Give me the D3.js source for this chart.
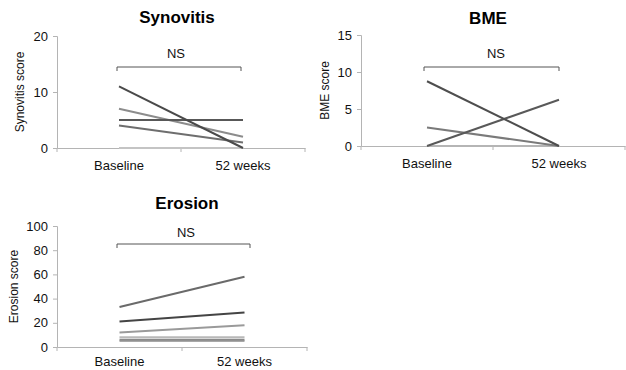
<!DOCTYPE html>
<html>
<head>
<meta charset="utf-8">
<script src="https://cdn.jsdelivr.net/npm/d3@7"></script>
<style>
body { margin: 0; background: #fff; }
svg { display: block; font-family: Arial, "Liberation Sans", sans-serif; }
</style>
</head>
<body>
<svg id="chart" width="626" height="370"></svg>
<script>
var width = 626, height = 370;

// categories
var timepoints = ["Baseline", "52 weeks"];

// synovitis scores per patient (baseline, 52 weeks)
var synovitisBaseline = [0, 4, 7, 5, 11];
var synovitisWeek52   = [0, 1, 2, 5, 0];
var synovitisTicks = [0, 10, 20];

// BME scores
var bmeBaseline = [0, 2.5, 0, 8.75];
var bmeWeek52   = [0, 0, 6.25, 0];
var bmeTicks = [0, 5, 10, 15];

// erosion scores
var erosionBaseline = [5, 6, 8, 12, 33, 21];
var erosionWeek52   = [5, 6, 8, 18, 58, 28.5];
var erosionTicks = [0, 20, 40, 60, 80, 100];

// line greys, one per patient
var synovitisColors = ["#c4c4c4", "#6e6e6e", "#8c8c8c", "#585858", "#4a4a4a"];
var bmeColors = ["#b5b5b5", "#7a7a7a", "#595959", "#4e4e4e"];
var erosionColors = ["#a8a8a8", "#8a8a8a", "#b8b8b8", "#9a9a9a", "#6a6a6a", "#444444"];

var panels = [
  {title: "Synovitis", ylabel: "Synovitis score", base: synovitisBaseline, end: synovitisWeek52,
   ticks: synovitisTicks, colors: synovitisColors, pad: 13,
   x0: 57, x1: 305, yTop: 36, yBot: 148, titleX: 177, titleY: 23, labelX: 24,
   nsX: 176, nsY: 58, brY: 67, brX0: 117, brX1: 241},
  {title: "BME", ylabel: "BME score", base: bmeBaseline, end: bmeWeek52,
   ticks: bmeTicks, colors: bmeColors, pad: 13,
   x0: 361, x1: 625, yTop: 35, yBot: 146, titleX: 488, titleY: 24, labelX: 329,
   nsX: 496, nsY: 58, brY: 67, brX0: 424, brX1: 559},
  {title: "Erosion", ylabel: "Erosion score", base: erosionBaseline, end: erosionWeek52,
   ticks: erosionTicks, colors: erosionColors, pad: 10,
   x0: 57, x1: 307, yTop: 226, yBot: 347, titleX: 187, titleY: 209, labelX: 18,
   nsX: 186, nsY: 237, brY: 244, brX0: 117, brX1: 250}
];

var svg = d3.select("#chart").attr("viewBox", [0, 0, width, height]);

panels.forEach(function(p) {
  var g = svg.append("g");

  var x = d3.scaleBand()
    .domain(timepoints)
    .range([p.x0, p.x1]);

  var y = d3.scaleLinear()
    .domain([0, d3.max(p.ticks)])
    .range([p.yBot, p.yTop]);

  // y axis
  var yAxis = g.append("g")
    .attr("transform", `translate(${p.x0},0)`)
    .call(d3.axisLeft(y).tickValues(p.ticks).tickSize(4).tickPadding(5));
  yAxis.selectAll("path, line").attr("stroke", "#b4b4b4");
  yAxis.selectAll("text").attr("font-size", 13).attr("fill", "#111").attr("font-family", "Arial, 'Liberation Sans', sans-serif");

  // x axis: Excel style, ticks between categories
  var xAxis = g.append("g")
    .attr("transform", `translate(0,${p.yBot})`)
    .call(d3.axisBottom(x).tickSize(0).tickPadding(p.pad));
  xAxis.select(".domain").attr("stroke", "#b4b4b4");
  xAxis.selectAll("text").attr("font-size", 13).attr("fill", "#111").attr("font-family", "Arial, 'Liberation Sans', sans-serif");
  g.append("g").selectAll("line")
    .data([p.x0, p.x0 + x.step(), p.x1])
    .join("line")
    .attr("x1", d => d).attr("x2", d => d)
    .attr("y1", p.yBot).attr("y2", p.yBot + 4)
    .attr("stroke", "#b4b4b4");

  // patient lines
  g.append("g").selectAll("line")
    .data(p.base.map((b, i) => ({b: b, e: p.end[i], c: p.colors[i]})))
    .join("line")
    .attr("x1", x(timepoints[0]) + x.bandwidth() / 2)
    .attr("x2", x(timepoints[1]) + x.bandwidth() / 2)
    .attr("y1", d => y(d.b))
    .attr("y2", d => y(d.e))
    .attr("stroke", d => d.c)
    .attr("stroke-width", 2);

  // title
  g.append("text")
    .attr("x", p.titleX).attr("y", p.titleY)
    .attr("text-anchor", "middle")
    .attr("font-size", 17).attr("font-weight", "bold")
    .text(p.title);

  // y label
  g.append("text")
    .attr("transform", `translate(${p.labelX},${(p.yTop + p.yBot) / 2}) rotate(-90)`)
    .attr("text-anchor", "middle")
    .attr("font-size", 12).attr("fill", "#111")
    .text(p.ylabel);

  // significance bracket
  g.append("path")
    .attr("d", `M${p.brX0},${p.brY + 4}V${p.brY}H${p.brX1}V${p.brY + 4}`)
    .attr("fill", "none")
    .attr("stroke", "#555");
  g.append("text")
    .attr("x", p.nsX).attr("y", p.nsY)
    .attr("text-anchor", "middle")
    .attr("font-size", 13).attr("fill", "#111")
    .text("NS");
});
</script>
</body>
</html>
